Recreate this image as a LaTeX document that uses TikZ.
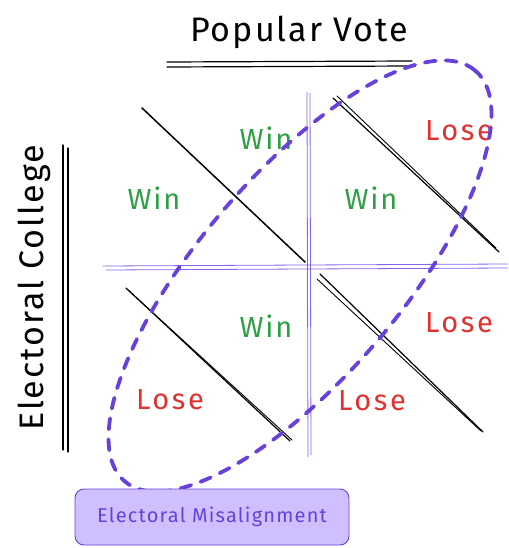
\documentclass[tikz,border=0pt]{standalone}
\usepackage{fontspec}
\setmainfont{Fira Sans}
\newfontfamily\wide[LetterSpace=6]{Fira Sans}
\newfontfamily\wider[LetterSpace=9]{Fira Sans}
\definecolor{winc}{HTML}{2F9E44}
\definecolor{losec}{HTML}{E03131}
\definecolor{viol}{HTML}{6741D9}
\definecolor{gridc}{HTML}{7048E8}
\definecolor{boxfill}{HTML}{D0BFFF}
\begin{document}
\begin{tikzpicture}[x=1pt,y=-1pt,
  inner sep=0pt,
  wintxt/.style={text=winc,font=\wide\fontsize{29}{29}\selectfont},
  losetxt/.style={text=losec,font=\wider\fontsize{29}{29}\selectfont},
  ink/.style={draw=black,line width=1.2pt,line cap=round},
  gridl/.style={draw=gridc,line width=0.8pt,opacity=0.85},
  ell/.style={draw=viol,line width=3.8pt,line cap=round,dash pattern=on 11pt off 10pt}]
\useasboundingbox (0,0) rectangle (508,548);
% titles
\node[font=\wide\fontsize{34}{34}\selectfont] (pv) at (299,32) {Popular Vote};
\draw[ink] (167,62) -- (412,61);
\draw[ink] (167,67) -- (412,66);
\node[font=\wide\fontsize{34}{34}\selectfont,rotate=90] (ec) at (34,288) {Electoral College};
\draw[ink] (63,145) -- (63,450);
\draw[ink] (68,148) -- (68,452);
% grid
\draw[gridl] (307,92) -- (308,457);
\draw[gridl] (310,93) -- (311,455);
\draw[gridl] (103,266) -- (508,264);
\draw[gridl] (106,270) -- (508,268);
% diagonals
\coordinate (a1) at (142,108); \coordinate (a2) at (305,262);
\coordinate (b1) at (333,98); \coordinate (b2) at (499,252);
\coordinate (b3) at (337,96); \coordinate (b4) at (496,248);
\coordinate (c1) at (126,288); \coordinate (c2) at (290,441);
\coordinate (c3) at (128,290); \coordinate (c4) at (292,440);
\coordinate (d1) at (320,274); \coordinate (d2) at (483,432);
\coordinate (d3) at (317,279); \coordinate (d4) at (481,431);
\draw[ink,line width=1.5pt] (a1) -- (a2);
\draw[ink] (b1) -- (b2);
\draw[ink,line width=0.9pt] (b3) -- (b4);
\draw[ink] (c1) -- (c2);
\draw[ink,line width=0.9pt] (c3) -- (c4);
\draw[ink] (d1) -- (d2);
\draw[ink,line width=0.9pt] (d3) -- (d4);
% labels
\node[wintxt] (w1) at (266,138) {Win};
\node[wintxt] (w2) at (154,198) {Win};
\node[wintxt] (w3) at (371,198) {Win};
\node[wintxt] (w4) at (266,326) {Win};
\node[losetxt] (l1) at (459,131) {Lose};
\node[losetxt] (l2) at (459,323) {Lose};
\node[losetxt] (l3) at (170,400) {Lose};
\node[losetxt] (l4) at (372,401) {Lose};
% ellipse
\coordinate (ctr) at (300,276);
\draw[ell,rotate around={49.5:(ctr)}] (ctr) ellipse [x radius=270pt, y radius=101pt];
% box
\node[draw=viol,line width=0.9pt,fill=boxfill,rounded corners=9pt,minimum width=274pt,minimum height=56pt,text=viol,font=\wide\fontsize{20}{20}\selectfont] (box) at (212,517) {Electoral Misalignment};
\end{tikzpicture}
\end{document}
